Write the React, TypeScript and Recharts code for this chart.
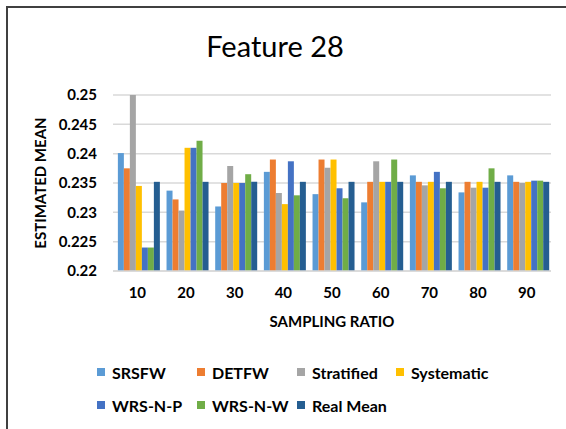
import { Bar, BarChart, CartesianGrid, XAxis, YAxis } from "recharts";

const ratios = ["10", "20", "30", "40", "50", "60", "70", "80", "90"];

const srsfw = [0.2401, 0.2337, 0.231, 0.2369, 0.2331, 0.2317, 0.2363, 0.2334, 0.2363];
const detfw = [0.2375, 0.2322, 0.235, 0.239, 0.239, 0.2352, 0.2352, 0.2352, 0.2352];
const stratified = [0.25, 0.2303, 0.2379, 0.2333, 0.2376, 0.2387, 0.2346, 0.2342, 0.235];
const systematic = [0.2345, 0.241, 0.235, 0.2314, 0.239, 0.2352, 0.2352, 0.2352, 0.2352];
const wrsNP = [0.224, 0.241, 0.235, 0.2387, 0.2341, 0.2352, 0.2369, 0.2342, 0.2354];
const wrsNW = [0.224, 0.2422, 0.2365, 0.2329, 0.2324, 0.239, 0.2341, 0.2375, 0.2354];
const realMean = [0.2352, 0.2352, 0.2352, 0.2352, 0.2352, 0.2352, 0.2352, 0.2352, 0.2352];

const yTicks = [0.22, 0.225, 0.23, 0.235, 0.24, 0.245, 0.25];

const SERIES = [
  { key: "SRSFW", values: srsfw, color: "#5B9BD5" },
  { key: "DETFW", values: detfw, color: "#ED7D31" },
  { key: "Stratified", values: stratified, color: "#A5A5A5" },
  { key: "Systematic", values: systematic, color: "#FFC000" },
  { key: "WRS-N-P", values: wrsNP, color: "#4472C4" },
  { key: "WRS-N-W", values: wrsNW, color: "#70AD47" },
  { key: "Real Mean", values: realMean, color: "#255E91" },
];

const data = ratios.map((r, i) => {
  const row: Record<string, string | number> = { ratio: r };
  SERIES.forEach((s) => (row[s.key] = s.values[i]));
  return row;
});

const FONT = "Lato, 'Open Sans', sans-serif";

const LegendBox = () => (
  <div
    style={{
      position: "absolute",
      top: 363,
      left: 97,
      display: "grid",
      gridTemplateColumns: "100px 100px 99px 130px",
      rowGap: 15,
      fontFamily: FONT,
      fontWeight: 700,
      fontSize: 16,
      color: "#000",
    }}
  >
    {SERIES.map((s) => (
      <div key={s.key} style={{ display: "flex", alignItems: "center", height: 18, whiteSpace: "nowrap" }}>
        <span style={{ width: 8, height: 8, background: s.color, marginRight: 7, display: "inline-block" }} />
        {s.key}
      </div>
    ))}
  </div>
);

export default function App() {
  return (
    <div style={{ position: "fixed", top: 0, left: 0, width: 566, height: 429, background: "#fff", fontFamily: FONT }}>
      <div style={{ position: "absolute", top: 0, left: 0 }}>
        <BarChart
          width={566}
          height={429}
          data={data}
          margin={{ top: 95, right: 15, bottom: 128, left: 53 }}
          barCategoryGap="10%"
          barGap={0}
        >
          <CartesianGrid vertical={false} stroke="#d9d9d9" strokeWidth={1.5} />
          <XAxis
            dataKey="ratio"
            axisLine={{ stroke: "#d9d9d9", strokeWidth: 1.5 }}
            tickLine={false}
            tickMargin={10}
            height={30}
            interval={0}
            tick={{ fill: "#000", fontSize: 15, fontWeight: 700, fontFamily: FONT }}
          />
          <YAxis
            domain={[0.22, 0.25]}
            ticks={yTicks}
            interval={0}
            width={60}
            axisLine={false}
            tickLine={false}
            tickMargin={10}
            tick={{ fill: "#000", fontSize: 15, fontWeight: 700, fontFamily: FONT }}
          />
          {SERIES.map((s) => (
            <Bar key={s.key} dataKey={s.key} fill={s.color} isAnimationActive={false} />
          ))}
        </BarChart>
      </div>
      <div style={{ position: "absolute", left: 6, top: 6, width: 2, height: 423, background: "#404040", zIndex: 5 }} />
      <div style={{ position: "absolute", left: 6, top: 6, width: 560, height: 2, background: "#404040", zIndex: 5 }} />
      <div
        style={{
          position: "absolute",
          top: 28,
          left: 0,
          width: 550,
          textAlign: "center",
          fontSize: 29,
          color: "#000",
        }}
      >
        Feature 28
      </div>
      <div
        style={{
          position: "absolute",
          left: 40,
          top: 183,
          transform: "translate(-50%, -50%) rotate(-90deg)",
          whiteSpace: "nowrap",
          fontWeight: 700,
          fontSize: 15,
        }}
      >
        ESTIMATED MEAN
      </div>
      <div
        style={{
          position: "absolute",
          top: 312,
          left: 113,
          width: 438,
          textAlign: "center",
          fontWeight: 700,
          fontSize: 15,
        }}
      >
        SAMPLING RATIO
      </div>
      <LegendBox />
    </div>
  );
}
